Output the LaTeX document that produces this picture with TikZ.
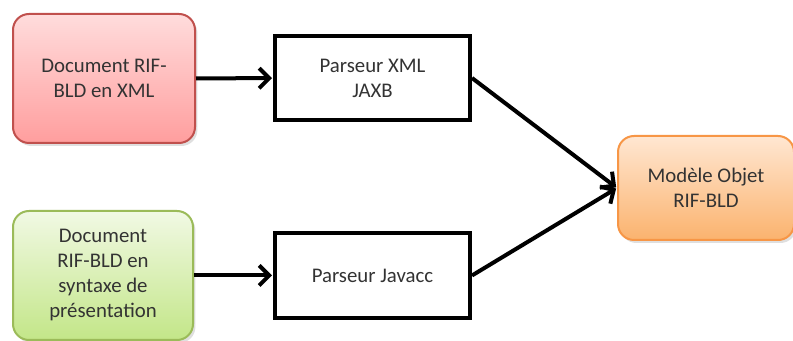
\documentclass[tikz,border=0pt]{standalone}
\usepackage{fontspec}
\setmainfont{Carlito}
\usepackage{tikz}
\usetikzlibrary{shadows, arrows.meta}

\definecolor{redtop}{HTML}{FFDCDC}
\definecolor{redbot}{HTML}{FF9E9E}
\definecolor{redline}{HTML}{C0504D}
\definecolor{greentop}{HTML}{F1F9E4}
\definecolor{greenbot}{HTML}{C3E688}
\definecolor{greenline}{HTML}{9BBB59}
\definecolor{orangetop}{HTML}{FFE7D2}
\definecolor{orangebot}{HTML}{FBB36E}
\definecolor{orangeline}{HTML}{F79646}
\definecolor{textgray}{HTML}{333333}

\tikzset{
  docbox/.style={draw, line width=1pt, rounded corners=8pt, align=center,
    text=textgray, font=\fontsize{10.4}{12.5}\selectfont,
    drop shadow={shadow xshift=1.2pt, shadow yshift=-1.5pt, opacity=0.25}},
  parsbox/.style={draw, line width=2pt, align=center, fill=white,
    text=textgray, font=\fontsize{10.4}{12.5}\selectfont,
    minimum width=97.5pt, minimum height=42pt},
  flow/.style={-{Straight Barb[length=5pt, width=10pt, line width=2pt]},
    line width=2pt, shorten >=0.5pt}
}

\begin{document}
\begin{tikzpicture}[x=0.5pt, y=-0.5pt]

  \useasboundingbox (0,0) rectangle (793,341);

  \node[docbox, draw=redline, top color=redtop, bottom color=redbot,
    minimum width=91pt, minimum height=64.5pt] (docxml) at (104,78.5)
    {Document RIF-\\BLD en XML};
  \node[docbox, draw=greenline, top color=greentop, bottom color=greenbot,
    minimum width=90pt, minimum height=64.5pt] (docpres) at (103,275.5)
    {Document\\RIF-BLD en\\syntaxe de\\présentation};
  \node[parsbox] (parsxml) at (372.5,78) {Parseur XML\\JAXB};
  \node[parsbox, minimum height=42.5pt] (parsjava) at (372.5,275.5) {Parseur Javacc};
  \node[docbox, draw=orangeline, top color=orangetop, bottom color=orangebot,
    minimum width=88pt, minimum height=52pt] (modele) at (706,188)
    {Modèle Objet\\RIF-BLD};

  \draw[flow] (docxml) -- (parsxml);
  \draw[flow] (docpres) -- (parsjava);
  \draw[flow] (parsxml.east) -- (modele.west);
  \draw[flow] (parsjava.east) -- (modele.west);

\end{tikzpicture}
\end{document}
